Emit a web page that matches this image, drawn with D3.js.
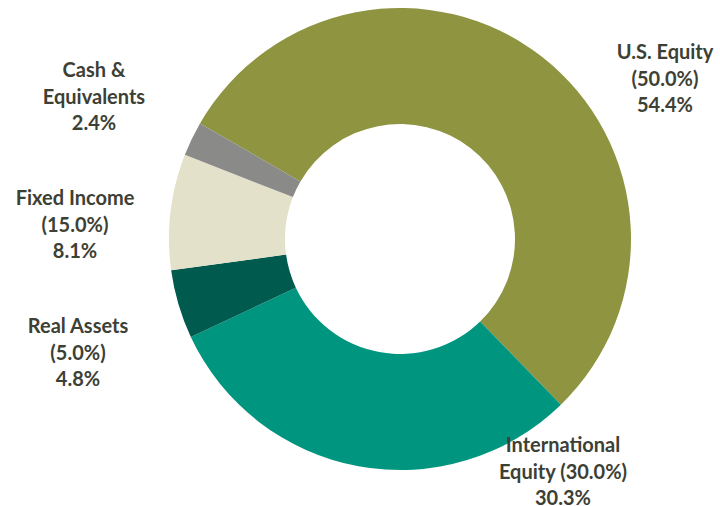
<!DOCTYPE html>
<html>
<head>
<meta charset="utf-8">
<script src="https://cdn.jsdelivr.net/npm/d3@7"></script>
<style>
  body { margin: 0; background: #fff; }
  svg text { font-family: Lato, "Open Sans", sans-serif; font-weight: 700; }
</style>
</head>
<body>
<div id="chart"></div>
<script>
// allocation data
const categories = ["U.S. Equity", "International Equity", "Real Assets", "Fixed Income", "Cash & Equivalents"];
const actuals = [54.4, 30.3, 4.8, 8.1, 2.4];
const targets = [50.0, 30.0, 5.0, 15.0, null];
// how each label is broken into lines
const labelLines = [
  ["U.S. Equity", "(50.0%)"],
  ["International", "Equity (30.0%)"],
  ["Real Assets", "(5.0%)"],
  ["Fixed Income", "(15.0%)"],
  ["Cash &", "Equivalents"]
];
const colors = ["#8f9440", "#00957f", "#005a4e", "#e4e1ca", "#8a8b88"];

const w = 720, h = 506;
const cx = 400, cy = 239;
const outerR = 231, innerR = 115;
// first-line anchor of each label, chosen by hand like the original
const labelAnchor = {
  "U.S. Equity": [665, 59],
  "International Equity": [563, 452],
  "Real Assets": [78, 333],
  "Fixed Income": [75, 205],
  "Cash & Equivalents": [94, 77]
};
const lineH = 26.5;

const svg = d3.select("#chart").append("svg")
  .attr("width", w)
  .attr("height", h);

const pie = d3.pie()
  .sort(null)
  .value(d => d.actual)
  .startAngle(-Math.PI / 3)
  .endAngle(-Math.PI / 3 + 2 * Math.PI);

const arc = d3.arc().innerRadius(innerR).outerRadius(outerR);

const rows = categories.map((c, i) => ({
  name: c, actual: actuals[i], target: targets[i], lines: labelLines[i], color: colors[i]
}));

svg.append("g")
  .attr("transform", `translate(${cx},${cy})`)
  .selectAll("path")
  .data(pie(rows))
  .join("path")
    .attr("d", arc)
    .attr("fill", d => d.data.color);

const fmt = d3.format(".1f");
const labels = svg.selectAll("text.lbl")
  .data(rows)
  .join("text")
    .attr("class", "lbl")
    .attr("text-anchor", "middle")
    .attr("font-size", "20px")
    .attr("fill", "#3d4034")
    .attr("x", d => labelAnchor[d.name][0])
    .attr("y", d => labelAnchor[d.name][1]);

labels.each(function(d) {
  const t = d3.select(this);
  const x = labelAnchor[d.name][0];
  const lines = d.lines.slice();
  lines.push(fmt(d.actual) + "%");
  lines.forEach((l, i) => {
    t.append("tspan")
      .attr("x", x)
      .attr("dy", i === 0 ? 0 : lineH)
      .text(l);
  });
});
</script>
</body>
</html>
